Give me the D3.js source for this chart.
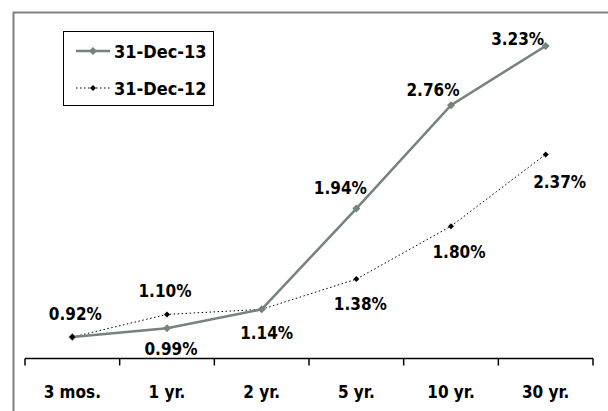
<!DOCTYPE html>
<html>
<head>
<meta charset="utf-8">
<script src="https://cdn.jsdelivr.net/npm/d3@7"></script>
<style>
  html, body { margin: 0; padding: 0; background: #fff; }
  svg { display: block; }
  text { font-family: "DejaVu Sans Condensed", "DejaVu Sans", sans-serif; font-weight: bold; fill: #000; }
</style>
</head>
<body>
<svg id="chart" width="608" height="411"></svg>
<script>
// Treasury yield curve, two snapshots
const maturities = ["3 mos.", "1 yr.", "2 yr.", "5 yr.", "10 yr.", "30 yr."];
const dec13 = [0.92, 0.99, 1.14, 1.94, 2.76, 3.23];
const dec12 = [0.92, 1.10, 1.14, 1.38, 1.80, 2.37];
const seriesNames = ["31-Dec-13", "31-Dec-12"];

// which points carry a value label, and where it sits relative to the point
const labels13 = [[3, -17], [4, 27], [5, 30], [-16, -15], [-18, -9], [-28, -1]];
const labels12 = [null, [-2, -17], null, [4, 31], [8, 32], [14, 34]];

const svg = d3.select("#chart");
const W = 608, H = 411;

// outer frame (only top and left edges fall inside the canvas)
svg.append("path")
  .attr("d", `M13.5,${H} V12.5 H${W}`)
  .attr("fill", "none").attr("stroke", "#808080").attr("stroke-width", 2);

const x = d3.scaleBand().domain(maturities).range([25, 593]);
const y = d3.scaleLinear().domain([0.75, 3.5]).range([358.5, 12]);
const cx = c => x(c) + x.bandwidth() / 2;

// category axis with boundary ticks
const axisY = 358.5;
const ax = svg.append("g");
ax.append("line").attr("x1", 25).attr("x2", 593).attr("y1", axisY).attr("y2", axisY)
  .attr("stroke", "#000").attr("stroke-width", 1.5);
const bounds = maturities.map(m => x(m)).concat([x(maturities[maturities.length - 1]) + x.bandwidth()]);
ax.selectAll("line.tick").data(bounds).join("line").attr("class", "tick")
  .attr("x1", d => d).attr("x2", d => d).attr("y1", axisY).attr("y2", axisY + 7)
  .attr("stroke", "#000").attr("stroke-width", 1.5);
ax.selectAll("text").data(maturities).join("text")
  .attr("x", d => cx(d)).attr("y", 397.5).attr("text-anchor", "middle")
  .attr("font-size", 17).text(d => d);

const line = d3.line().x((d, i) => cx(maturities[i])).y(d => y(d));
const diamond = s => `M0,${-s} L${s},0 L0,${s} L${-s},0 Z`;
const green = "#74847a";

// 31-Dec-12: dotted black line
svg.append("path").datum(dec12).attr("d", line)
  .attr("fill", "none").attr("stroke", "#000").attr("stroke-width", 1)
  .attr("stroke-dasharray", "1.5,2.5");
svg.selectAll("path.m12").data(dec12).join("path").attr("class", "m12")
  .attr("d", diamond(3))
  .attr("transform", (d, i) => `translate(${cx(maturities[i])},${y(d)})`)
  .attr("fill", "#000");

// 31-Dec-13: solid grey-green line
svg.append("path").datum(dec13).attr("d", line)
  .attr("fill", "none").attr("stroke", green).attr("stroke-width", 2.5);
svg.selectAll("path.m13").data(dec13).join("path").attr("class", "m13")
  .attr("d", diamond(4))
  .attr("transform", (d, i) => `translate(${cx(maturities[i])},${y(d)})`)
  .attr("fill", green);

// the 3-month points coincide; the black marker sits on top
svg.append("path").attr("d", diamond(3))
  .attr("transform", `translate(${cx(maturities[0])},${y(dec12[0])})`).attr("fill", "#000");

const fmt = d => d.toFixed(2) + "%";
function valueLabels(vals, offs) {
  vals.forEach((v, i) => {
    const o = offs[i];
    if (!o) return;
    svg.append("text")
      .attr("x", cx(maturities[i]) + o[0]).attr("y", y(v) + o[1])
      .attr("text-anchor", "middle").attr("font-size", 17).text(fmt(v));
  });
}
valueLabels(dec13, labels13);
valueLabels(dec12, labels12);

// legend
const lg = svg.append("g");
lg.append("rect").attr("x", 63.5).attr("y", 31.5).attr("width", 150).attr("height", 74)
  .attr("fill", "#fff").attr("stroke", "#000").attr("stroke-width", 1);
const rows = [{ name: seriesNames[0], y: 51, color: green, w: 2.5, dash: null, s: 4 },
              { name: seriesNames[1], y: 88, color: "#000", w: 1, dash: "1.5,2.5", s: 3 }];
rows.forEach(r => {
  lg.append("line").attr("x1", 76).attr("x2", 110).attr("y1", r.y).attr("y2", r.y)
    .attr("stroke", r.color).attr("stroke-width", r.w).attr("stroke-dasharray", r.dash);
  lg.append("path").attr("d", diamond(r.s)).attr("transform", `translate(93,${r.y})`).attr("fill", r.color);
  lg.append("text").attr("x", 114).attr("y", r.y + 6.5).attr("font-size", 18).text(r.name);
});
</script>
</body>
</html>
